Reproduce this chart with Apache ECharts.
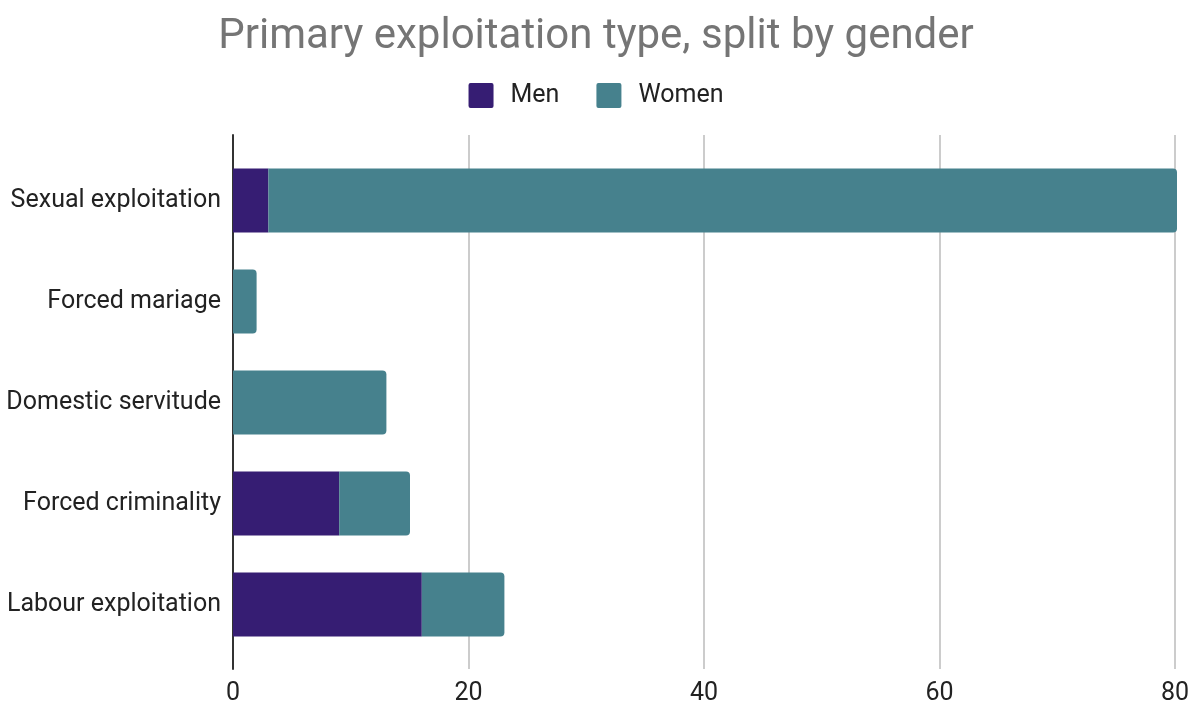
<!DOCTYPE html>
<html>
<head>
<meta charset="utf-8">
<script src="https://cdn.jsdelivr.net/npm/echarts@6/dist/echarts.min.js"></script>
<style>html,body{margin:0;padding:0;background:#fff;}#c{width:1192px;height:706px;}</style>
</head>
<body>
<div id="c"></div>
<script>
const categories = ['Sexual exploitation', 'Forced mariage', 'Domestic servitude', 'Forced criminality', 'Labour exploitation'];
const men = [3, 0, 0, 9, 16];
const women = [77, 2, 13, 6, 7];
const xTicks = [0, 20, 40, 60, 80];

const FONT = 'Roboto, sans-serif';
const chart = echarts.init(document.getElementById('c'));
chart.setOption({
  animation: false,
  title: {
    text: 'Primary exploitation type, split by gender',
    left: 'center', top: 11,
    textStyle: { fontFamily: FONT, fontSize: 42, fontWeight: 'normal', color: '#757575' }
  },
  legend: {
    top: 78, left: 'center',
    itemWidth: 25, itemHeight: 25, itemGap: 37,
    icon: 'path://M2,0 H23 A2,2 0 0 1 25,2 V23 A2,2 0 0 1 23,25 H2 A2,2 0 0 1 0,23 V2 A2,2 0 0 1 2,0 Z',
    textStyle: { fontFamily: FONT, fontSize: 25, color: '#222', padding: [0, 0, 0, 12] },
    data: ['Men', 'Women']
  },
  grid: [
    { left: 233, right: 15, top: 150, bottom: 51 },
    { left: 233, right: 15, top: 135, bottom: 36 }
  ],
  xAxis: [
    { gridIndex: 0, type: 'value', min: 0, max: 80, interval: 20,
      axisLine: { show: false }, axisTick: { show: false },
      splitLine: { show: false }, axisLabel: { show: false } },
    { gridIndex: 1, type: 'value', min: 0, max: 80, interval: 20,
      axisLine: { show: false }, axisTick: { show: false },
      splitLine: { lineStyle: { color: '#cccccc', width: 2 } },
      axisLabel: { fontFamily: FONT, fontSize: 25, color: '#222', margin: 12,
        formatter: v => xTicks.includes(v) ? String(v) : '' } }
  ],
  yAxis: [
    { gridIndex: 0, type: 'category', inverse: true, data: categories,
      axisLine: { show: false },
      axisTick: { show: false },
      axisLabel: { fontFamily: FONT, fontSize: 25, color: '#222', margin: 12 } },
    { gridIndex: 1, type: 'value', min: 0, max: 1,
      axisLine: { show: true, lineStyle: { color: '#333', width: 2 } },
      axisTick: { show: false }, axisLabel: { show: false }, splitLine: { show: false } }
  ],
  series: [
    { name: 'Men', type: 'bar', stack: 'g', data: men, barWidth: 64, z: 3,
      itemStyle: { color: '#361d73' } },
    { name: 'Women', type: 'bar', stack: 'g', data: women, barWidth: 64, z: 3,
      itemStyle: { color: '#46818d', borderRadius: [0, 4, 4, 0] } }
  ]
});
</script>
</body>
</html>
